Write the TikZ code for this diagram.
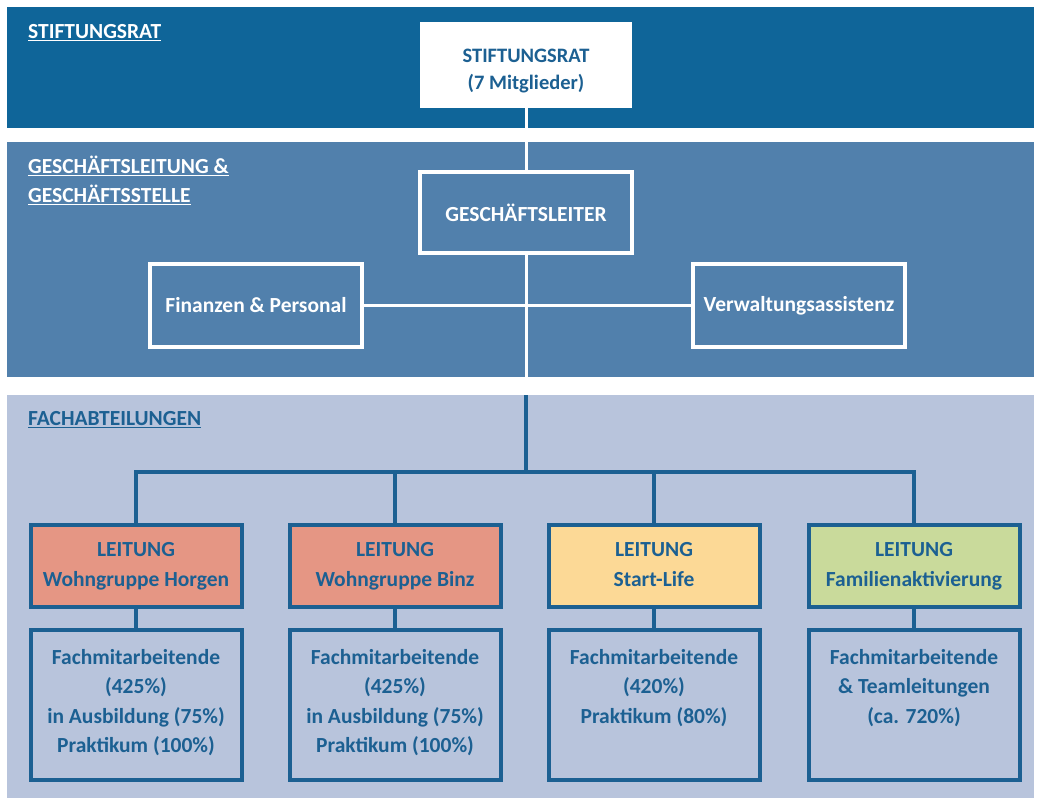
\documentclass[tikz,border=0pt]{standalone}
\usepackage{fontspec}
\setmainfont{Carlito}
\definecolor{topband}{RGB}{15,101,153}
\definecolor{midband}{RGB}{81,128,172}
\definecolor{lowband}{RGB}{184,196,220}
\definecolor{dblue}{RGB}{28,96,146}
\definecolor{salmon}{RGB}{229,150,132}
\definecolor{pyellow}{RGB}{252,217,150}
\definecolor{pgreen}{RGB}{201,218,155}
\tikzset{
  bandlabel/.style={anchor=west, inner sep=0, font=\fontsize{21.5}{29}\selectfont\bfseries, align=left},
  whitebox/.style={draw=white, line width=3.5pt, minimum width=212pt, inner sep=0, text=white, font=\fontsize{21.5}{29}\selectfont\bfseries, align=center},
  leitbox/.style={draw=dblue, line width=4pt, minimum width=211pt, minimum height=82pt, inner sep=0, text=dblue, font=\fontsize{21.5}{30}\selectfont\bfseries, align=center},
  lowbox/.style={draw=dblue, line width=4pt, minimum width=211pt, minimum height=150pt, inner sep=0, text=dblue, font=\fontsize{21.5}{29.5}\selectfont\bfseries},
  wline/.style={draw=white, line width=3pt},
  bline/.style={draw=dblue, line width=3.5pt}
}
\newcommand{\lowtext}[1]{\begin{minipage}[c][150pt][t]{205pt}\centering\vspace{19pt}#1\end{minipage}}
\begin{document}
\begin{tikzpicture}[x=1pt,y=-1pt]
\useasboundingbox (0,0) rectangle (1039,801);
\fill[white] (0,0) rectangle (1039,801);
\fill[topband] (7,7) rectangle (1034,128);
\fill[midband] (7,142) rectangle (1034,377);
\fill[lowband] (7,395) rectangle (1034,798);

% band labels
\node[bandlabel, text=white] (l1) at (28,33) {\underline{STIFTUNGSRAT}};
\node[bandlabel, text=white] (l2) at (28,180) {\underline{GESCHÄFTSLEITUNG \&}\\\underline{GESCHÄFTSSTELLE}};
\node[bandlabel, text=dblue] (l3) at (28,420) {\underline{FACHABTEILUNGEN}};

% top
\node[fill=white, minimum width=212pt, minimum height=86pt, inner sep=0, text=dblue, font=\fontsize{20.5}{27}\selectfont\bfseries] (sr) at (526,65) {\raisebox{-6pt}[\height][\depth]{\begin{tabular}{@{}c@{}}STIFTUNGSRAT\\(7 Mitglieder)\end{tabular}}};

% middle
\node[whitebox, minimum height=81pt] (gl) at (526,212.5) {GESCHÄFTSLEITER};
\node[whitebox, minimum height=83pt] (fp) at (256,305.5) {Finanzen \& Personal};
\node[whitebox, minimum height=83pt] (va) at (799,305.5) {Verwaltungsassistenz};
\coordinate (gb) at (526,377);
\coordinate (ft) at (526,395);
\coordinate (j) at (526,472);

\draw[wline] (sr.south) -- (gl.north);
\draw[wline] (gl.south) -- (gb);
\draw[wline] (fp.east) -- (va.west);

% lower
\node[leitbox, fill=salmon] (a1) at (136,566) {LEITUNG\\Wohngruppe Horgen};
\node[leitbox, fill=salmon] (a2) at (395,566) {LEITUNG\\Wohngruppe Binz};
\node[leitbox, fill=pyellow] (a3) at (654,566) {LEITUNG\\Start-Life\vphantom{p}};
\node[leitbox, fill=pgreen] (a4) at (914,566) {LEITUNG\\Familienaktivierung};

\node[lowbox] (b1) at (136,705) {\lowtext{Fachmitarbeitende\\(425\%)\\in Ausbildung (75\%)\\Praktikum (100\%)}};
\node[lowbox] (b2) at (395,705) {\lowtext{Fachmitarbeitende\\(425\%)\\in Ausbildung (75\%)\\Praktikum (100\%)}};
\node[lowbox] (b3) at (654,705) {\lowtext{Fachmitarbeitende\\(420\%)\\Praktikum (80\%)}};
\node[lowbox] (b4) at (914,705) {\lowtext{Fachmitarbeitende\\\& Teamleitungen\\(ca. 720\%)}};

\draw[bline] (ft) -- (j);
\draw[bline] (j) -| (a1.north);
\draw[bline] (j) -| (a2.north);
\draw[bline] (j) -| (a3.north);
\draw[bline] (j) -| (a4.north);
\foreach \i in {1,2,3,4} { \draw[bline] (a\i.south) -- (b\i.north); }
\end{tikzpicture}
\end{document}
